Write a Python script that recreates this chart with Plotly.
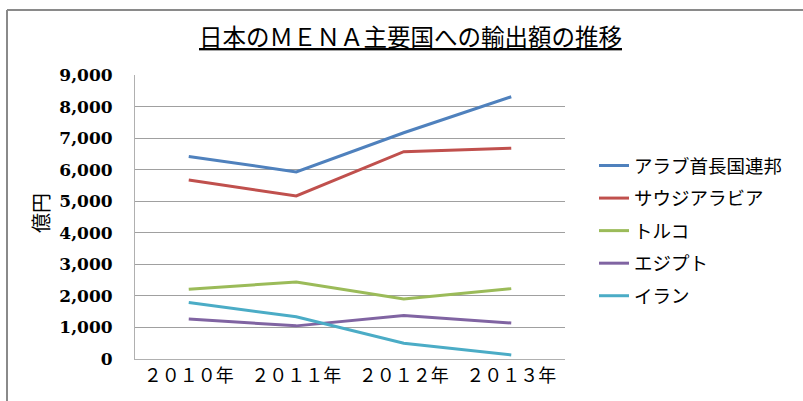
import plotly.graph_objects as go

years = ["２０１０年", "２０１１年", "２０１２年", "２０１３年"]
series_names = ["アラブ首長国連邦", "サウジアラビア", "トルコ", "エジプト", "イラン"]
uae = [6420, 5930, 7170, 8310]
saudi = [5670, 5170, 6570, 6680]
turkey = [2210, 2440, 1900, 2230]
egypt = [1270, 1050, 1380, 1140]
iran = [1790, 1340, 500, 130]
colors = ["#4F81BD", "#C0504D", "#9BBB59", "#8064A2", "#4BACC6"]
title_text = "日本のＭＥＮＡ主要国への輸出額の推移"
y_title = "億円"

W, H = 803, 401
L, R, T, B = 135, 238, 75, 42

fig = go.Figure()
for i, (name, vals) in enumerate(zip(series_names, [uae, saudi, turkey, egypt, iran])):
    fig.add_trace(go.Scatter(
        x=years, y=vals, name=name, mode="lines",
        line=dict(color=colors[i], width=3),
        legendgroup=name,
    ))

pw = W - L - R
ph = H - T - B

def px_x(px):
    return (px - L) / pw

def px_y(py):
    return (H - B - py) / ph

fig.update_layout(
    width=W, height=H,
    margin=dict(l=L, r=R, t=T, b=B),
    paper_bgcolor="white", plot_bgcolor="white",
    showlegend=True,
    legend=dict(
        x=px_x(594), y=px_y(147), xanchor="left", yanchor="top",
        font=dict(family="Noto Sans CJK JP", size=18.5, color="black"),
        tracegroupgap=5.5, bgcolor="rgba(0,0,0,0)",
    ),
    xaxis=dict(
        type="category", range=[-0.5, 3.5],
        showline=True, linecolor="#B0B0B0", linewidth=1,
        showgrid=False, ticks="",
        tickfont=dict(family="Noto Sans CJK JP", size=18, color="black"),
        fixedrange=True,
    ),
    yaxis=dict(
        range=[0, 9000], tickvals=list(range(0, 9001, 1000)),
        tickformat=",d",
        showline=True, linecolor="#B0B0B0", linewidth=1,
        showgrid=True, gridcolor="#A0A0A0", gridwidth=1,
        zeroline=False, ticks="",
        ticklabelstandoff=18,
        tickfont=dict(family="DejaVu Serif", size=17, color="black", weight="bold"),
        fixedrange=True,
    ),
    annotations=[
        dict(text=title_text, x=px_x(410), y=px_y(36), xref="paper", yref="paper",
             showarrow=False, xanchor="center", yanchor="middle",
             font=dict(family="Noto Sans CJK JP", size=23.5, color="black", lineposition="under")),
        dict(text=y_title, x=px_x(40), y=px_y(213), xref="paper", yref="paper",
             showarrow=False, textangle=-90, xanchor="center", yanchor="middle",
             font=dict(family="Noto Sans CJK JP", size=20, color="black")),
    ],
    shapes=[
        dict(type="line", xref="paper", yref="paper", x0=px_x(7), x1=px_x(7),
             y0=px_y(10), y1=px_y(405), line=dict(color="#8A8A8A", width=2)),
        dict(type="line", xref="paper", yref="paper", x0=px_x(7), x1=px_x(810),
             y0=px_y(10), y1=px_y(10), line=dict(color="#8A8A8A", width=2)),
    ],
)

fig.write_html(
    "out.html",
    config={"displayModeBar": False},
    post_script="document.body.style.margin='0px';document.body.style.overflow='hidden';",
)
